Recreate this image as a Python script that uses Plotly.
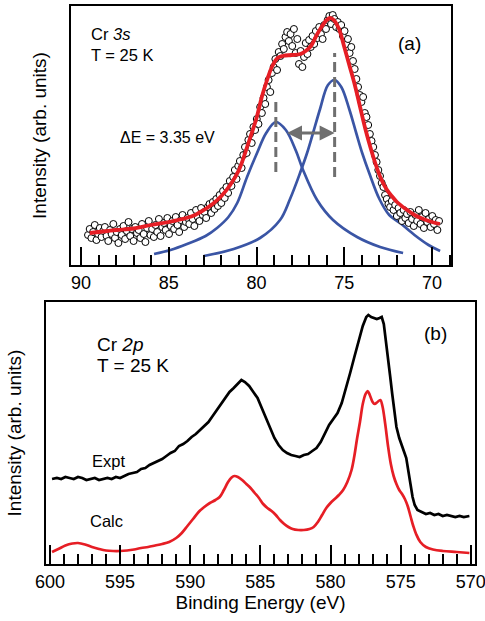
import numpy as np
import plotly.graph_objects as go

# ---------------- Cr 3s (panel a) ----------------
# measured spectrum on an even energy grid from 89.6 eV down to 69.6 eV
e3s_first, e3s_last = 89.6, 69.6
i3s_data = [
    30, 36, 27, 33, 40, 25, 31, 37, 28, 34,
    38, 29, 24, 35, 31, 41, 27, 33, 22, 36,
    30, 39, 26, 34, 43, 29, 36, 24, 38, 32,
    35, 27, 41, 31, 23, 37, 44, 30, 36, 28,
    40, 33, 46, 29, 38, 42, 35, 47, 31, 39,
    44, 36, 48, 40, 33, 45, 50, 38, 43, 47,
    41, 52, 46, 39, 55, 48, 44, 57, 50, 53,
    47, 58, 61, 52, 63, 56, 66, 59, 70, 62,
    74, 67, 78, 72, 84, 79, 88, 95, 86, 99,
    104, 97, 110, 118, 112, 125, 131, 122, 138, 135,
    146, 141, 158, 152, 167, 161, 178, 185, 173, 192,
    198, 206, 195, 213, 209, 221, 216, 228, 233, 224,
    231, 219, 236, 212, 226, 201, 214, 198, 208, 222,
    211, 225, 218, 229, 221, 234, 227, 238, 231, 226,
    240, 236, 245, 249, 241, 250, 246, 238, 243, 236,
    240, 229, 234, 221, 226, 212, 218, 204, 196, 186,
    178, 170, 163, 168, 152, 148, 140, 131, 124, 118,
    110, 103, 95, 89, 82, 78, 70, 66, 61, 58,
    64, 55, 60, 49, 57, 52, 44, 55, 47, 51,
    42, 53, 46, 39, 50, 44, 55, 41, 48, 37,
    52, 43, 46, 38, 49, 41, 45, 35, 44,
]
e3s_data = np.linspace(e3s_first, e3s_last, len(i3s_data))

# total fit
e3s_fit = [89.5, 89.0, 88.5, 88.0, 87.0, 86.0, 85.0, 84.0, 83.5, 83.0, 82.5, 82.0,
           81.5, 81.0, 80.5, 80.0, 79.7, 79.4, 79.1, 78.8, 78.5, 78.0, 77.5, 77.2,
           76.9, 76.6, 76.3, 76.0, 75.8, 75.6, 75.3, 75.0, 74.7, 74.4, 74.1, 73.8,
           73.5, 73.2, 72.9, 72.6, 72.3, 72.0, 71.5, 71.0, 70.5, 70.0, 69.55]
i3s_fit = [32, 33, 34, 35, 36.5, 40, 43, 47, 50, 55, 61, 69,
           80, 95, 120, 147, 168, 185, 199, 207, 209, 210, 211, 214,
           219, 229, 238, 245, 247, 245, 236, 218, 199, 180, 158, 136,
           117, 100, 86, 76, 69, 63, 56, 50, 46, 43, 41]

# the two fitted components
peak_centres = [78.90, 75.55]
delta_e = 3.35
e3s_comp1 = [85.84, 84.9, 83.96, 82.9, 82.25, 81.6, 81.1, 80.54, 79.97, 79.45, 78.9,
             78.33, 77.75, 77.35, 76.55, 75.64, 74.27, 72.96, 71.65]
i3s_comp1 = [11, 15, 21, 29, 37, 48, 62, 88, 112, 132, 143,
             135, 114, 95, 65, 45, 28, 18, 12]
e3s_comp2 = [83.0, 81.3, 79.8, 78.66, 78.09, 77.52, 77.12, 76.78, 76.38, 75.93, 75.55,
             75.17, 74.72, 74.32, 73.98, 73.58, 73.0, 72.44, 71.82, 71.0, 70.2, 69.54]
i3s_comp2 = [9, 16, 27, 45, 66, 92, 112, 132, 156, 180, 185,
             178, 156, 132, 112, 92, 66, 50, 42, 30, 20, 14]
marker_tops = [168, 212]
marker_bottoms = [93, 88]
arrow_level = 132

# ---------------- Cr 2p (panel b) ----------------
e2p_expt = [599.85, 599.5, 599.2, 598.9, 598.6, 598.3, 598.0, 597.7, 597.4, 597.1,
            596.8, 596.5, 596.2, 595.9, 595.6, 595.3, 595.0, 594.7, 594.4, 594.1,
            593.8, 593.5, 593.2, 592.9, 592.6, 592.3, 592.0, 591.7, 591.4, 591.1,
            590.8, 590.5, 590.2, 589.9, 589.6, 589.3, 589.0, 588.7, 588.4, 588.1,
            587.8, 587.5, 587.2, 586.9, 586.6, 586.35, 586.1, 585.8, 585.5, 585.2,
            584.9, 584.6, 584.3, 584.0, 583.7, 583.4, 583.1, 582.8, 582.5, 582.2,
            581.9, 581.6, 581.3, 581.0, 580.7, 580.4, 580.1, 579.8, 579.5, 579.2,
            578.9, 578.6, 578.3, 578.0, 577.7, 577.45, 577.3, 577.1, 576.9, 576.7,
            576.5, 576.35, 576.2, 576.05, 575.9, 575.75, 575.6, 575.45, 575.3, 575.1,
            574.9, 574.75, 574.6, 574.45, 574.3, 574.15, 574.0, 573.8, 573.5, 573.2,
            572.9, 572.6, 572.3, 572.0, 571.7, 571.4, 571.1, 570.8, 570.5, 570.1]
i2p_expt = [85, 86, 85, 87, 86, 85, 87, 86, 84, 85,
            86, 84, 85, 86, 85, 87, 86, 88, 90, 91,
            92, 95, 96, 99, 101, 103, 105, 108, 111, 113,
            118, 120, 123, 127, 130, 134, 138, 142, 148, 154,
            160, 166, 172, 176, 180, 184, 182, 178, 172, 166,
            156, 146, 135, 126, 119, 114, 111, 109, 108, 107,
            109, 110, 113, 116, 122, 131, 139, 145, 151, 161,
            175, 191, 207, 222, 238, 247, 249, 247, 246, 245,
            246, 247, 240, 224, 205, 188, 170, 152, 137, 126,
            119, 112, 106, 95, 80, 67, 59, 54, 52, 50,
            51, 49, 50, 48, 49, 48, 47, 48, 47, 48]

e2p_calc = [599.85, 599.4, 598.9, 598.4, 598.0, 597.5, 597.0, 596.5, 596.0, 595.5,
            595.0, 594.5, 594.0, 593.5, 593.0, 592.5, 592.0, 591.5, 591.0, 590.6,
            590.2, 589.8, 589.4, 589.0, 588.6, 588.2, 587.9, 587.6, 587.3, 587.05,
            586.85, 586.6, 586.3, 586.0, 585.7, 585.4, 585.1, 584.8, 584.5, 584.2,
            583.9, 583.6, 583.3, 583.0, 582.7, 582.3, 581.9, 581.5, 581.2, 580.9,
            580.6, 580.3, 580.0, 579.7, 579.4, 579.1, 578.8, 578.5, 578.3, 578.1,
            577.9, 577.7, 577.5, 577.35, 577.2, 577.0, 576.85, 576.65, 576.45, 576.3,
            576.1, 575.9, 575.7, 575.5, 575.3, 575.1, 574.9, 574.7, 574.5, 574.3,
            574.1, 573.9, 573.6, 573.2, 572.7, 572.0, 571.0, 570.1]
i2p_calc = [12, 15, 18.5, 20.5, 21, 19.5, 17, 15, 13.5, 13,
            13, 13.5, 14.5, 16, 17, 18.5, 20, 22, 26, 31,
            38, 45, 52, 57, 61, 64, 67, 74, 82, 86.5,
            88, 87, 84, 80, 76, 71, 66, 60, 56, 53,
            49, 44, 40, 37, 35, 34, 34, 35, 37, 42,
            49, 56, 61, 65, 69, 74, 82, 94, 108, 126,
            142, 160, 170, 173, 169, 162, 160, 162, 164, 158,
            140, 118, 100, 88, 80, 74, 70, 65, 58, 48,
            38, 30, 22, 17, 14.5, 13, 12, 11]

# ---------------- styling ----------------
W, H = 485, 621
FONT = "Liberation Sans, Arial, Helvetica, sans-serif"
RED, BLUE, GREY = "#e61e25", "#3a55a5", "#6f6f6f"


def xdom(left, right):
    return [left / W, right / W]


def ydom(top, bottom):
    return [1 - bottom / H, 1 - top / H]


fig = go.Figure()

# panel (a)
fig.add_trace(go.Scatter(x=e3s_comp1, y=i3s_comp1, mode="lines", line=dict(color=BLUE, width=2.7, shape="spline"),
                         xaxis="x", yaxis="y", hoverinfo="skip"))
fig.add_trace(go.Scatter(x=e3s_comp2, y=i3s_comp2, mode="lines", line=dict(color=BLUE, width=2.7, shape="spline"),
                         xaxis="x", yaxis="y", hoverinfo="skip"))
for c, top, bot in zip(peak_centres, marker_tops, marker_bottoms):
    fig.add_trace(go.Scatter(x=[c, c], y=[bot, top], mode="lines",
                             line=dict(color=GREY, width=3, dash="10px,5px"),
                             xaxis="x", yaxis="y", hoverinfo="skip"))
fig.add_trace(go.Scatter(x=e3s_data, y=i3s_data, mode="markers",
                         marker=dict(symbol="circle", size=7, color="white",
                                     line=dict(color="black", width=1)),
                         xaxis="x", yaxis="y"))
fig.add_trace(go.Scatter(x=e3s_fit, y=i3s_fit, mode="lines", line=dict(color=RED, width=3.8, shape="spline"),
                         xaxis="x", yaxis="y"))

# panel (b)
fig.add_trace(go.Scatter(x=e2p_expt, y=i2p_expt, mode="lines", line=dict(color="black", width=2.7),
                         xaxis="x2", yaxis="y2"))
fig.add_trace(go.Scatter(x=e2p_calc, y=i2p_calc, mode="lines", line=dict(color=RED, width=2.7, shape="spline"),
                         xaxis="x2", yaxis="y2"))

axis_common = dict(showline=True, linewidth=2, linecolor="black", mirror=True,
                   showgrid=False, zeroline=False, automargin=False)
xcommon = dict(axis_common, ticks="inside", tickwidth=2, tickcolor="black", dtick=5,
               ticklabeloverflow="allow",
               tickfont=dict(size=18, color="black", family=FONT),
               minor=dict(dtick=1, ticks="inside", ticklen=10, tickwidth=2, tickcolor="black", showgrid=False))
ycommon = dict(axis_common, showticklabels=False, ticks="",
               title=dict(text="Intensity (arb. units)", font=dict(size=19, color="black", family=FONT), standoff=17))

fig.update_layout(
    width=W, height=H, margin=dict(l=0, r=0, t=0, b=0),
    paper_bgcolor="white", plot_bgcolor="white", showlegend=False,
    font=dict(family=FONT, color="black"),
    xaxis=dict(xcommon, domain=xdom(71, 451), range=[90.57, 68.92], ticklen=18, anchor="y", tick0=70),
    yaxis=dict(ycommon, domain=ydom(6, 265), range=[0, 259], anchor="x"),
    xaxis2=dict(xcommon, domain=xdom(46, 475), range=[600.28, 569.7], ticklen=19, anchor="y2", tick0=570,
                title=dict(text="Binding Energy (eV)", font=dict(size=19, color="black", family=FONT), standoff=2)),
    yaxis2=dict(ycommon, domain=ydom(302, 564), range=[0, 262], anchor="x2"),
)

# arrow marking the exchange splitting
fig.add_annotation(x=peak_centres[1], y=arrow_level, ax=peak_centres[0] - 0.55, ay=arrow_level,
                   xref="x", yref="y", axref="x", ayref="y", text="", showarrow=True,
                   arrowside="end+start", arrowhead=2, arrowsize=1, arrowwidth=3, arrowcolor=GREY)

labels = [
    ("x", "y", 89.55, 231, "Cr <i>3s</i>", 16.5, "left"),
    ("x", "y", 89.55, 210.5, "T = 25 K", 16.5, "left"),
    ("x", "y", 71.3, 222, "(a)", 19, "center"),
    ("x", "y", 87.9, 128, f"ΔE = {delta_e:.2f} eV", 16, "left"),
    ("x2", "y2", 596.8, 219.5, "Cr <i>2p</i>", 19, "left"),
    ("x2", "y2", 596.8, 198.5, "T = 25 K", 19, "left"),
    ("x2", "y2", 572.5, 230.5, "(b)", 19, "center"),
    ("x2", "y2", 597.15, 103, "Expt", 16.5, "left"),
    ("x2", "y2", 597.3, 43, "Calc", 16.5, "left"),
]
for xr, yr, x, y, txt, size, anchor in labels:
    fig.add_annotation(x=x, y=y, xref=xr, yref=yr, text=txt, showarrow=False,
                       xanchor=anchor, yanchor="middle", font=dict(size=size, color="black", family=FONT))

fig.write_html("out.html")
